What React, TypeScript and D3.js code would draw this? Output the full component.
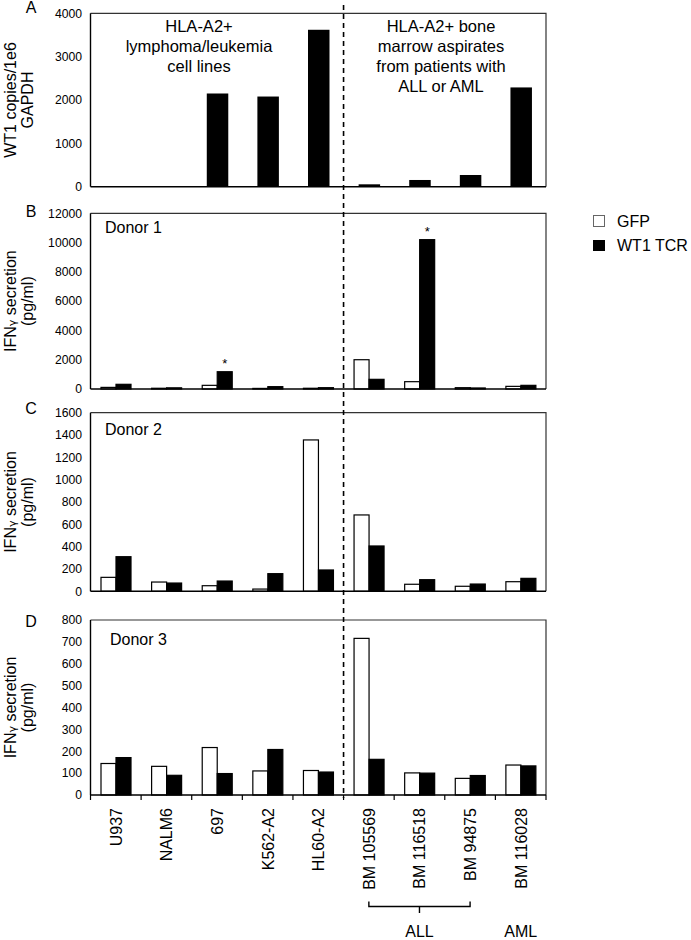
import React from "react";
import * as d3 from "d3";

const categories = ["U937", "NALM6", "697", "K562-A2", "HL60-A2", "BM 105569", "BM 116518", "BM 94875", "BM 116028"];
const wt1Copies = [0, 0, 2150, 2080, 3620, 55, 155, 270, 2290];
const donor1GFP = [110, 50, 250, 40, 50, 2000, 500, 90, 180];
const donor1WT1 = [320, 80, 1180, 160, 90, 660, 10200, 70, 250];
const donor2GFP = [125, 83, 50, 20, 1356, 684, 63, 45, 86];
const donor2WT1 = [310, 74, 92, 158, 191, 406, 104, 65, 116];
const donor3GFP = [144, 131, 217, 110, 112, 716, 101, 76, 137];
const donor3WT1 = [171, 90, 98, 208, 105, 163, 100, 89, 133];
const ticksA = [0, 1000, 2000, 3000, 4000];
const ticksB = [0, 2000, 4000, 6000, 8000, 10000, 12000];
const ticksC = [0, 200, 400, 600, 800, 1000, 1200, 1400, 1600];
const ticksD = [0, 100, 200, 300, 400, 500, 600, 700, 800];
const starsB = ["697", "BM 116518"];
const seriesNames = ["GFP", "WT1 TCR"];

const FONT = "'Liberation Sans', Arial, sans-serif";
const X0 = 90.5;
const X1 = 546;

const x = d3.scaleBand<string>().domain(categories).range([X0, X1]).padding(0);
const sub = d3.scaleBand<string>().domain(seriesNames).range([10.5, 40.5]).padding(0);

type PanelDef = {
  letter: string;
  top: number;
  bottom: number;
  max: number;
  ticks: number[];
  title: string[];
  donor?: string;
  donorX?: number;
  donorY?: number;
  gfp?: number[];
  wt1: number[];
  single?: boolean;
  letterY: number;
  xTicks?: boolean;
};

const panels: PanelDef[] = [
  { letter: "A", top: 13.3, bottom: 186.7, max: 4000, ticks: ticksA, title: ["WT1 copies/1e6", "GAPDH"], wt1: wt1Copies, single: true, letterY: 13 },
  { letter: "B", top: 213.3, bottom: 389, max: 12000, ticks: ticksB, title: ["IFN", "(pg/ml)"], donor: "Donor 1", donorX: 105, donorY: 233, gfp: donor1GFP, wt1: donor1WT1, letterY: 217 },
  { letter: "C", top: 412.7, bottom: 591.3, max: 1600, ticks: ticksC, title: ["IFN", "(pg/ml)"], donor: "Donor 2", donorX: 105, donorY: 435, gfp: donor2GFP, wt1: donor2WT1, letterY: 414 },
  { letter: "D", top: 620, bottom: 795, max: 800, ticks: ticksD, title: ["IFN", "(pg/ml)"], donor: "Donor 3", donorX: 110, donorY: 645, gfp: donor3GFP, wt1: donor3WT1, letterY: 627, xTicks: true },
];

function Panel({ p }: { p: PanelDef }) {
  const y = d3.scaleLinear().domain([0, p.max]).range([p.bottom, p.top]);
  const cy = (p.top + p.bottom) / 2;
  const isIFN = p.title[0] === "IFN";
  return (
    <g>
      <text x={31} y={p.letterY} fontSize={16} textAnchor="middle" fontFamily={FONT}>{p.letter}</text>
      {/* y title */}
      <text transform={`translate(15.5,${cy}) rotate(-90)`} textAnchor="middle" fontSize={16} fontFamily={FONT}>
        {isIFN ? (
          <>
            <tspan>IFN</tspan>
            <tspan fontSize={11} fontFamily="'DejaVu Sans', sans-serif">γ</tspan>
            <tspan> secretion</tspan>
          </>
        ) : p.title[0]}
      </text>
      <text transform={`translate(32.5,${cy}) rotate(-90)`} textAnchor="middle" fontSize={16} fontFamily={FONT}>
        {p.title[1]}
      </text>
      {/* bars */}
      {categories.map((c, i) => {
        const bx = x(c)!;
        if (p.single) {
          const w = 21.5;
          const cx = bx + x.bandwidth() / 2 + 0.5;
          return (
            <rect key={c} x={cx - w / 2} y={y(p.wt1[i])} width={w} height={p.bottom - y(p.wt1[i])} fill="#000" />
          );
        }
        return (
          <g key={c}>
            <rect x={bx + sub("GFP")!} y={y(p.gfp![i])} width={sub.bandwidth()} height={p.bottom - y(p.gfp![i])} fill="#fff" stroke="#000" strokeWidth={1.2} />
            <rect x={bx + sub("WT1 TCR")!} y={y(p.wt1[i])} width={sub.bandwidth()} height={p.bottom - y(p.wt1[i])} fill="#000" stroke="#000" strokeWidth={1.2} />
          </g>
        );
      })}
      {/* stars */}
      {p.letter === "B" && starsB.map((c) => {
        const i = categories.indexOf(c);
        const sx = x(c)! + sub("WT1 TCR")! + sub.bandwidth() / 2;
        return (
          <text key={c} x={sx} y={y(p.wt1[i]) - 4} textAnchor="middle" fontSize={13} fontFamily={FONT}>*</text>
        );
      })}
      {/* frame */}
      <path d={`M${X0},${p.top}H${X1}V${p.bottom}`} fill="none" stroke="#333" strokeWidth={1.2} />
      <line x1={X0} x2={X0} y1={p.top} y2={p.bottom} stroke="#000" strokeWidth={1.4} />
      <line x1={X0} x2={X1} y1={p.bottom} y2={p.bottom} stroke="#000" strokeWidth={1.6} />
      {/* y ticks */}
      {p.ticks.map((t) => (
        <text key={t} x={82} y={y(t)} dy="0.35em" textAnchor="end" fontSize={12.2} fontFamily={FONT}>{t}</text>
      ))}
      {p.xTicks && [...categories.map((c) => x(c)!), X1].map((tx, k) => (
        <line key={k} x1={tx} x2={tx} y1={p.bottom} y2={p.bottom + 5} stroke="#000" strokeWidth={1.2} />
      ))}
      {p.donor && (
        <text x={p.donorX} y={p.donorY} fontSize={16} fontFamily={FONT}>{p.donor}</text>
      )}
    </g>
  );
}

export default function App() {
  const pD = panels[3];
  const dashX = x("BM 105569")!;
  const allStart = x("BM 105569")! + x.bandwidth() / 2;
  const allEnd = x("BM 94875")! + x.bandwidth() / 2;
  const allMid = (allStart + allEnd) / 2;
  const amlX = x("BM 116028")! + x.bandwidth() / 2;
  return (
    <svg width={691} height={940} style={{ position: "absolute", left: 0, top: 0, background: "#fff" }} fontFamily={FONT}>
      <rect x={0} y={0} width={691} height={940} fill="#fff" />
      {panels.map((p) => <Panel key={p.letter} p={p} />)}
      {/* dashed separator */}
      <line x1={dashX} x2={dashX} y1={5} y2={798} stroke="#000" strokeWidth={1.6} strokeDasharray="5,4" />
      {/* panel A annotations */}
      <text textAnchor="middle" fontSize={16.5} fontFamily={FONT}>
        <tspan x={199} y={32}>HLA-A2+</tspan>
        <tspan x={199} y={52}>lymphoma/leukemia</tspan>
        <tspan x={199} y={72}>cell lines</tspan>
      </text>
      <text textAnchor="middle" fontSize={16.5} fontFamily={FONT}>
        <tspan x={441} y={32}>HLA-A2+ bone</tspan>
        <tspan x={441} y={52}>marrow aspirates</tspan>
        <tspan x={441} y={72}>from patients with</tspan>
        <tspan x={441} y={92}>ALL or AML</tspan>
      </text>
      {/* legend */}
      <rect x={593.5} y={215.5} width={11} height={11} fill="#fff" stroke="#666" strokeWidth={1} />
      <text x={617} y={227} fontSize={16} fontFamily={FONT}>{seriesNames[0]}</text>
      <rect x={593} y={240} width={12} height={11} fill="#000" />
      <text x={617} y={251} fontSize={16} fontFamily={FONT}>{seriesNames[1]}</text>
      {/* x labels */}
      {categories.map((c) => {
        const cx = x(c)! + x.bandwidth() / 2;
        return (
          <text key={c} transform={`translate(${cx + 6},${pD.bottom + 13}) rotate(-90)`} textAnchor="end" fontSize={16} fontFamily={FONT}>{c}</text>
        );
      })}
      {/* ALL bracket */}
      <path d={`M${allStart},901.5V906.5H${allEnd}V901.5M${allMid},906.5V913`} fill="none" stroke="#000" strokeWidth={1.4} />
      <text x={allMid} y={937} textAnchor="middle" fontSize={16} fontFamily={FONT}>ALL</text>
      <text x={amlX} y={937} textAnchor="middle" fontSize={16} fontFamily={FONT}>AML</text>
    </svg>
  );
}
